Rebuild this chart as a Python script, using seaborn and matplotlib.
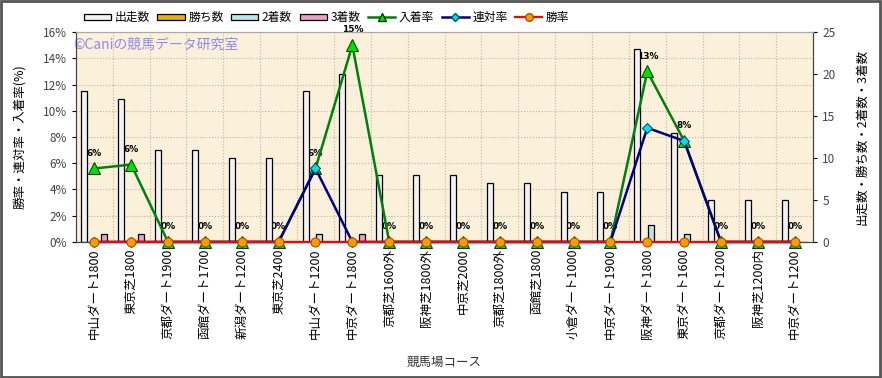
import matplotlib
matplotlib.use("Agg")
import matplotlib.pyplot as plt
import numpy as np
import pandas as pd
import seaborn as sns
from matplotlib.patches import Patch, Rectangle
from matplotlib.lines import Line2D

plt.rcParams['font.family'] = ['Noto Sans CJK JP', 'DejaVu Sans']

# data
courses = ["中山ダート1800", "東京芝1800", "京都ダート1900", "函館ダート1700", "新潟ダート1200",
           "東京芝2400", "中山ダート1200", "中京ダート1800", "京都芝1600外", "阪神芝1800外",
           "中京芝2000", "京都芝1800外", "函館芝1800", "小倉ダート1000", "中京ダート1900",
           "阪神ダート1800", "東京ダート1600", "京都ダート1200", "阪神芝1200内", "中京ダート1200"]
runs = [18, 17, 11, 11, 10, 10, 18, 20, 8, 8, 8, 7, 7, 6, 6, 23, 13, 5, 5, 5]
wins = [0] * 20
seconds = [0, 0, 0, 0, 0, 0, 1, 0, 0, 0, 0, 0, 0, 0, 0, 2, 1, 0, 0, 0]
thirds = [1, 1, 0, 0, 0, 0, 0, 1, 0, 0, 0, 0, 0, 0, 0, 0, 0, 0, 0, 0]
top3_rate = [5.6, 5.9, 0, 0, 0, 0, 5.6, 15.0, 0, 0, 0, 0, 0, 0, 0, 13.0, 7.7, 0, 0, 0]
top2_rate = [0, 0, 0, 0, 0, 0, 5.6, 0, 0, 0, 0, 0, 0, 0, 0, 8.7, 7.7, 0, 0, 0]
win_rate = [0] * 20

kinds = ["出走数", "勝ち数", "2着数", "3着数"]
colors = {"出走数": "#F2F2F2", "勝ち数": "#E8B000", "2着数": "#B4EAEA", "3着数": "#EE9CC8"}

df = pd.DataFrame({
    "コース": courses * 4,
    "種別": [k for k in kinds for _ in courses],
    "数": runs + wins + seconds + thirds,
})

fig = plt.figure(figsize=(8.82, 3.78), dpi=100)
ax = fig.add_axes([0.086, 0.360, 0.836, 0.555])
ax.set_facecolor("#FBF0DA")
ax.set_axisbelow(True)

sns.barplot(data=df, x="コース", y="数", hue="種別", hue_order=kinds, order=courses,
            palette=colors, width=0.72, gap=0.1, edgecolor="black", linewidth=0.9,
            legend=False, ax=ax, zorder=1)

ax2 = ax.twinx()
pos = np.arange(len(courses))
sns.lineplot(x=pos, y=top3_rate, ax=ax2, color="#00800A", linewidth=1.8, marker="^",
             markersize=8, markerfacecolor="#00E000", markeredgecolor="#004000",
             zorder=3, clip_on=False)
sns.lineplot(x=pos, y=top2_rate, ax=ax2, color="#000080", linewidth=1.8, marker="D",
             markersize=5, markerfacecolor="#00E0F0", markeredgecolor="#005060",
             zorder=4, clip_on=False)
sns.lineplot(x=pos, y=win_rate, ax=ax2, color="#FF0000", linewidth=1.6, marker="o",
             markersize=6.5, markerfacecolor="#FF9900", markeredgecolor="#A05000",
             zorder=5, clip_on=False)

# value labels sit below the bars, like the original
for i, v in enumerate(top3_rate):
    ax.annotate(f"{round(v)}%", xy=(i, v), xycoords=ax2.transData, xytext=(0, 11),
                textcoords="offset points", ha="center", va="center", fontsize=6.5,
                fontweight="bold", family="DejaVu Sans", zorder=0.95, annotation_clip=False)

ax.set_xlim(-0.5, len(courses) - 0.5)
ax.set_ylim(0, 25)
ax2.set_ylim(0, 16)

# bars axis on the right, rate axis on the left
ax.yaxis.tick_right()
ax.yaxis.set_label_position("right")
ax2.yaxis.tick_left()
ax2.yaxis.set_label_position("left")
ax.set_yticks(np.arange(0, 26, 5))
ax2.set_yticks(np.arange(0, 17, 2))
ax2.set_yticklabels([f"{t}%" for t in range(0, 17, 2)])

ax.set_yticks(np.arange(0, 25.01, 25 / 8), minor=True)
ax.set_xticks(np.arange(0.5, len(courses) - 1, 1), minor=True)
ax.grid(which="minor", color="#BDB5A5", linestyle=":", linewidth=0.8)
ax.grid(which="major", visible=False)
ax.tick_params(axis="x", which="minor", length=0)
ax.tick_params(axis="x", which="major", length=0, labelsize=9, pad=5)
ax.tick_params(axis="y", which="minor", length=0)
ax.tick_params(axis="y", which="major", labelsize=8.5, labelcolor="#444444", length=3)
ax2.tick_params(axis="y", labelsize=8.5, labelcolor="#444444", length=3)
plt.setp(ax.get_xticklabels(), rotation=90)

ax.set_xlabel("競馬場コース", fontsize=9, color="#333333", labelpad=12)
ax.set_ylabel("出走数・勝ち数・2着数・3着数", fontsize=9, labelpad=14)
ax2.set_ylabel("勝率・連対率・入着率(%)", fontsize=9, labelpad=12)

for sp in ["left", "right", "bottom"]:
    ax.spines[sp].set_color("#444444")
    ax2.spines[sp].set_color("#444444")
ax.spines["top"].set_color("#AAAAAA")
ax2.spines["top"].set_color("#AAAAAA")

ax.text(-0.004, 0.938, "©Caniの競馬データ研究室", transform=ax.transAxes, fontsize=10,
        color="#8C8CF0", va="center", ha="left", zorder=0.95)

handles = [Patch(facecolor=colors[k], edgecolor="black", linewidth=0.9) for k in kinds]
handles += [
    Line2D([], [], color="#00800A", lw=1.8, marker="^", markersize=6,
           markerfacecolor="#00E000", markeredgecolor="#004000"),
    Line2D([], [], color="#000080", lw=1.8, marker="D", markersize=4,
           markerfacecolor="#00E0F0", markeredgecolor="#005060"),
    Line2D([], [], color="#FF0000", lw=1.6, marker="o", markersize=5.5,
           markerfacecolor="#FF9900", markeredgecolor="#A05000"),
]
labels = kinds + ["入着率", "連対率", "勝率"]
fig.legend(handles, labels, loc="center left", bbox_to_anchor=(0.083, 0.953), ncol=7,
           frameon=False, fontsize=8.5, handlelength=2.3, handleheight=0.5,
           handletextpad=0.3, columnspacing=0.65)

fig.patches.append(Rectangle((0.001, 0.002), 0.997, 0.995, transform=fig.transFigure,
                             fill=False, edgecolor="#555555", linewidth=2))

fig.savefig("out.png", dpi=100)
